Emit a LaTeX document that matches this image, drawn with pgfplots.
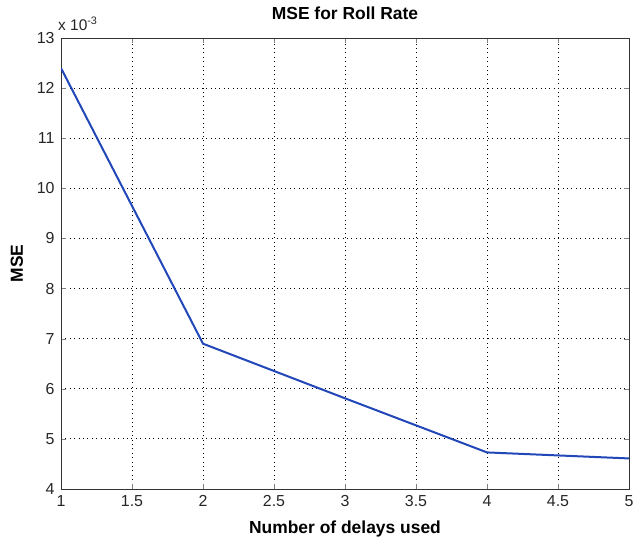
\documentclass[border=0pt]{standalone}
\usepackage{fontspec}
\setmainfont{Liberation Sans}
\usepackage{pgfplots}
\pgfplotsset{compat=1.18}
\definecolor{mline}{rgb}{0.13,0.28,0.72}
\begin{document}
\begin{tikzpicture}
\begin{axis}[
  at={(0,0)}, anchor=south west,
  scale only axis,
  width=568bp, height=451bp,
  xmin=1, xmax=5, ymin=0.004, ymax=0.013,
  xtick={1,1.5,...,5},
  ytick={0.004,0.005,...,0.0131},
  scaled y ticks=base 10:3,
  every y tick scale label/.style={at={([yshift=8bp]axis description cs:0,1)}, anchor=base west, inner sep=0pt},
  ytick scale label code/.code={\fontsize{15.5}{16}\selectfont x 10\textsuperscript{-3}},
  /pgf/number format/assume math mode=true,
  tick label style={font=\fontsize{16}{17}\selectfont, color=black!85},
  yticklabel style={xshift=-3bp},
  xticklabel style={yshift=-3bp},
  tick align=inside,
  major tick length=5bp,
  axis line style={black!80, line width=0.9bp},
  grid=major,
  major grid style={black, line width=1bp, dash pattern=on 1bp off 3.4bp},
  title={\bfseries MSE for Roll Rate},
  title style={font=\fontsize{17.5}{19}\selectfont, at={([yshift=13bp]axis description cs:0.5,1)}, anchor=base, inner sep=0pt},
  xlabel={\bfseries Number of delays used},
  ylabel={\bfseries MSE},
  label style={font=\fontsize{17.5}{19}\selectfont},
  xlabel style={at={([yshift=-44bp]axis description cs:0.5,0)}, anchor=base, inner sep=0pt},
  ylabel style={at={([xshift=-38bp]axis description cs:0,0.5)}, anchor=base, inner sep=0pt},
]
\addplot[mline, line width=2bp] coordinates {
  (1,0.0124) (2,0.0069) (3,0.00581) (4,0.00473) (4.5,0.00467) (5,0.00461)
};
\end{axis}
\pgfresetboundingbox
\path (-61bp,-49bp) rectangle (574bp,489bp);
\end{tikzpicture}
\end{document}
